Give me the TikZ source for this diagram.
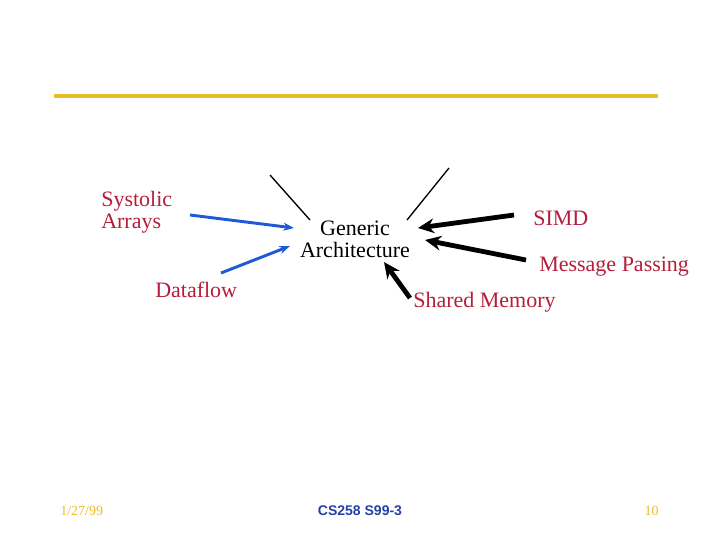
\documentclass[tikz,border=0pt]{standalone}
\usepackage{fontspec}
\setmainfont{Liberation Serif}
\newfontfamily\footsans{Liberation Sans}
\usetikzlibrary{arrows.meta}
\definecolor{gold}{RGB}{235,190,40}
\definecolor{lbl}{RGB}{180,30,60}
\definecolor{arrblue}{RGB}{30,90,215}
\definecolor{footblue}{RGB}{35,65,165}
\tikzset{
  lab/.style={inner sep=0pt, font=\fontsize{16.5}{16.5}\selectfont, align=left},
  bluearr/.style={draw=arrblue, line width=2.2pt, -{Stealth[length=8pt,width=6pt]}},
  blackarr/.style={draw=black, line width=3.6pt, -{Stealth[length=12pt,width=11pt]}},
  thin/.style={draw=black, line width=1pt},
  foot/.style={inner sep=0pt, font=\fontsize{10.5}{12}\selectfont}
}
\begin{document}
\begin{tikzpicture}[x=0.75pt,y=-0.75pt]
\useasboundingbox (0,0) rectangle (720,540);
\draw[gold, line width=3pt] (54,96) -- (658,96);
% labels
\node[lab, text=lbl, anchor=west] (sys) at (101,212) {Systolic\\Arrays};
\node[lab, text=lbl, anchor=west] (df) at (155,290) {Dataflow};
\node[lab, align=center] (gen) at (355,239) {Generic\\Architecture};
\node[lab, text=lbl, anchor=west] (simd) at (533,218) {SIMD};
\node[lab, text=lbl, anchor=west] (mp) at (539,267) {Message Passing};
\node[lab, text=lbl, anchor=west] (sm) at (413,302) {Shared Memory};
% connector endpoints
\coordinate (sysS) at (190,215);
\coordinate (sysE) at (294,228);
\coordinate (dfS) at (221,273);
\coordinate (dfE) at (290,246);
\coordinate (simdS) at (514,215);
\coordinate (simdE) at (418,228);
\coordinate (mpS) at (526,260);
\coordinate (mpE) at (425,240);
\coordinate (smS) at (410,298);
\coordinate (smE) at (384,262);
\coordinate (t1a) at (270,175);
\coordinate (t1b) at (310,220);
\coordinate (t2a) at (449,168);
\coordinate (t2b) at (407,220);
% connectors
\draw[bluearr] (sysS) -- (sysE);
\draw[bluearr] (dfS) -- (dfE);
\draw[blackarr] (simdS) -- (simdE);
\draw[blackarr] (mpS) -- (mpE);
\draw[blackarr] (smS) -- (smE);
\draw[thin] (t1a) -- (t1b);
\draw[thin] (t2a) -- (t2b);
% footer
\node[foot, text=gold, anchor=west] (date) at (60,511) {1/27/99};
\node[foot, text=footblue, anchor=center] (course) at (360,511) {\footsans\bfseries CS258 S99-3};
\node[foot, text=gold, anchor=east] (page) at (659,511) {10};
\end{tikzpicture}
\end{document}
